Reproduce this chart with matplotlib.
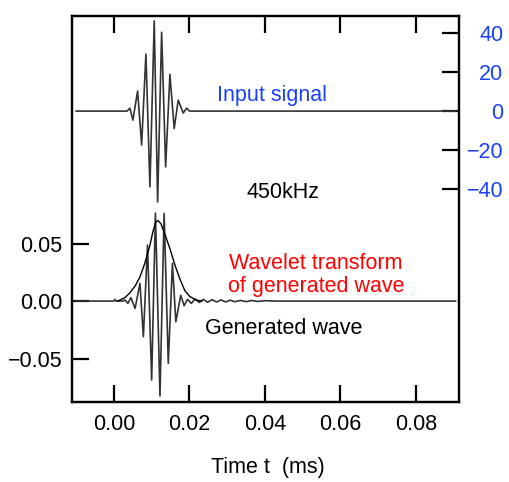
import matplotlib
matplotlib.use("Agg")
import matplotlib.pyplot as plt

# ---- data ----
# Input signal (right axis), extrema of the tone burst
input_t = [-0.0100, 0.0035, 0.00424, 0.00503, 0.00628, 0.00734, 0.00848, 0.00954,
           0.01068, 0.01158, 0.01264, 0.01370, 0.01483, 0.01597, 0.01703, 0.01836,
           0.01926, 0.0200, 0.0905]
input_v = [0.0, 0.0, 1.5, -4.6, 10.3, -17.4, 29.2, -38.8,
           46.2, -46.5, 40.4, -28.6, 18.8, -8.9, 5.6, -1.0,
           1.5, 0.0, 0.0]

# Generated wave (left axis)
gen_t = [-0.0100, 0.0000, 0.0003, 0.0006, 0.0025, 0.0029, 0.0037, 0.0045, 0.0056,
         0.0069, 0.0078, 0.0089, 0.0100, 0.0110, 0.0122, 0.0133, 0.0144,
         0.0155, 0.0164, 0.0177, 0.0186, 0.0195, 0.0205, 0.0215, 0.0226,
         0.0237, 0.0248, 0.0260, 0.0272, 0.0284, 0.0296, 0.0308, 0.0320,
         0.0335, 0.0350, 0.0365, 0.0380, 0.0400, 0.0430, 0.0905]
gen_v = [0.0, 0.0, 0.0015, 0.0, 0.0, 0.001, -0.002, 0.003, -0.0064,
         0.0154, -0.031, 0.0487, -0.0687, 0.0765, -0.0826, 0.0763, -0.0542,
         0.0328, -0.018, 0.005, -0.004, 0.0015, -0.002, 0.0018, -0.0012,
         0.0015, -0.001, 0.0012, -0.0008, 0.001, -0.0008, 0.0008, -0.0006,
         0.0006, -0.0005, 0.0005, -0.0003, 0.0003, 0.0, 0.0]

# Wavelet transform envelope (left axis)
env_t = [0.0010, 0.0029, 0.0042, 0.0056, 0.0069, 0.0082, 0.0095, 0.0103,
         0.0111, 0.0117, 0.0125, 0.0135, 0.0148, 0.0162, 0.0175, 0.0188,
         0.0201, 0.0217, 0.0233]
env_v = [0.0, 0.003, 0.007, 0.013, 0.021, 0.033, 0.048, 0.060,
         0.069, 0.070, 0.067, 0.058, 0.046, 0.031, 0.019, 0.009,
         0.004, 0.001, 0.0]

x_ticks = [0.00, 0.02, 0.04, 0.06, 0.08]
x_ticklabels = ["0.00", "0.02", "0.04", "0.06", "0.08"]
left_ticks = [-0.05, 0.00, 0.05]
left_ticklabels = ["\u22120.05", "0.00", "0.05"]
right_ticks = [-40, -20, 0, 20, 40]
right_ticklabels = ["\u221240", "\u221220", "0", "20", "40"]

FONT = ["Liberation Sans", "Noto Sans CJK JP", "DejaVu Sans"]
plt.rcParams["font.family"] = FONT
FS = 15.5
BLUE = "#1a40ff"

fig = plt.figure(figsize=(5.10, 4.82), dpi=100)
W, H = 510, 482
L, R, T, B = 72, 459, 16, 402
ax = fig.add_axes([L / W, 1 - B / H, (R - L) / W, (B - T) / H])
ax2 = ax.twinx()

ax.plot(gen_t, gen_v, color="#333333", lw=1.2)
ax.plot(env_t, env_v, color="black", lw=1.0)
ax2.plot(input_t, input_v, color="#333333", lw=1.2)

ax.set_xlim(-0.0111, 0.0914)
ax.set_ylim(-0.0878, 0.248)
ax2.set_ylim(-149, 48.7)

ax.set_xticks(x_ticks)
ax.set_xticklabels(x_ticklabels)
ax.set_yticks(left_ticks)
ax.set_yticklabels(left_ticklabels)
ax2.set_yticks(right_ticks)
ax2.set_yticklabels(right_ticklabels)

for a in (ax, ax2):
    for s in a.spines.values():
        s.set_linewidth(1.6)

ax.tick_params(axis="x", direction="in", length=12.5, width=1.6, top=True,
               labelsize=FS, pad=9)
ax.tick_params(axis="y", direction="in", length=12.5, width=1.6, right=False,
               labelsize=FS, pad=7)
ax2.tick_params(axis="y", direction="in", length=12.5, width=1.6, left=False,
                labelsize=FS, pad=32, labelcolor=BLUE)
for lab in ax2.get_yticklabels():
    lab.set_horizontalalignment("right")

tr = ax.transAxes
def fx(px):
    return (px - L) / (R - L)
def fy(py):
    return (B - py) / (B - T)

ax.text(fx(272), fy(96), "Input signal", color=BLUE, fontsize=FS,
        ha="center", va="center", transform=tr)
ax.text(fx(283.5), fy(192), "450kHz", color="black", fontsize=FS,
        ha="center", va="center", transform=tr)
ax.text(fx(316), fy(275), "Wavelet transform\nof generated wave", color="red",
        fontsize=FS, ha="center", va="center", linespacing=1.1, transform=tr)
ax.text(fx(284), fy(329), "Generated wave", color="black", fontsize=FS,
        ha="center", va="center", transform=tr)

fig.text(267.5 / W, 1 - 467 / H, "Time t  (ms)", fontsize=FS,
         ha="center", va="center")

fig.savefig("out.png", dpi=100)
